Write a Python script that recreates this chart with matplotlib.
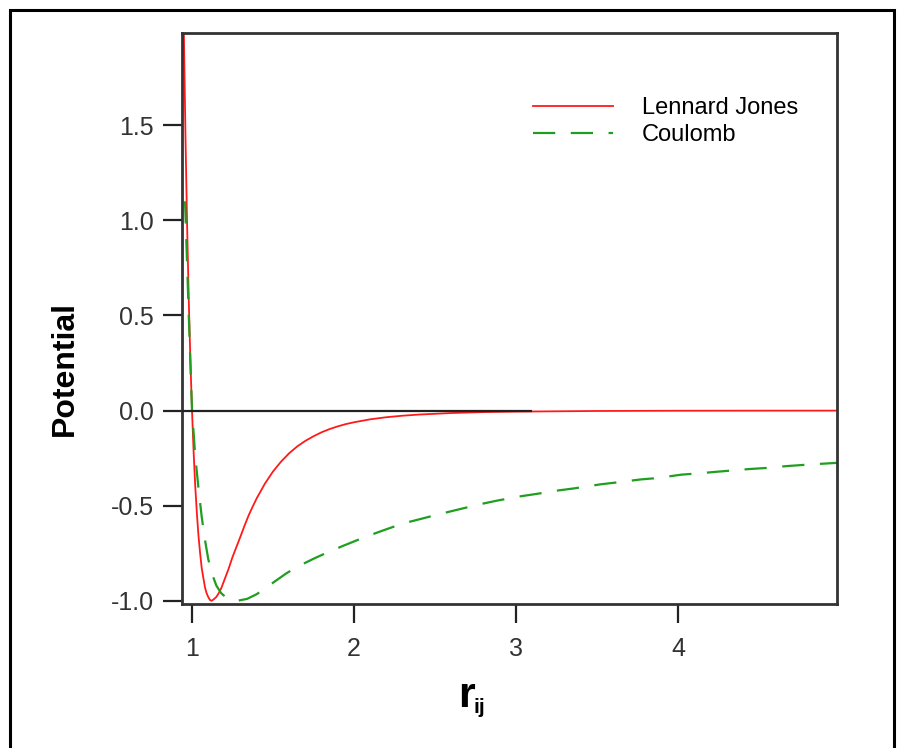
import matplotlib.pyplot as plt
from matplotlib.patches import Rectangle

# Lennard Jones curve
r_lj = [0.948, 0.96, 0.97, 0.98, 0.99, 1.00, 1.01, 1.02, 1.03, 1.04, 1.05, 1.06, 1.07,
        1.08, 1.09, 1.10, 1.11, 1.12, 1.13, 1.15, 1.165, 1.18, 1.20, 1.225, 1.25, 1.275,
        1.30, 1.325, 1.35, 1.375, 1.40, 1.45, 1.50, 1.55, 1.60, 1.65, 1.70, 1.75, 1.80,
        1.85, 1.90, 1.95, 2.00, 2.10, 2.20, 2.30, 2.40, 2.60, 2.80, 3.00, 3.50, 4.00,
        4.50, 5.00]
v_lj = [2.08, 1.42, 0.96, 0.58, 0.26, 0.00, -0.22, -0.40, -0.54, -0.66, -0.75, -0.83, -0.88,
        -0.93, -0.96, -0.98, -0.995, -1.00, -0.995, -0.98, -0.96, -0.935, -0.89, -0.834,
        -0.77, -0.715, -0.66, -0.603, -0.55, -0.504, -0.46, -0.384, -0.32, -0.268, -0.224,
        -0.188, -0.159, -0.135, -0.114, -0.097, -0.083, -0.071, -0.0615, -0.046, -0.035,
        -0.027, -0.021, -0.013, -0.008, -0.0055, -0.0022, -0.001, -0.0005, -0.0003]

# Coulomb curve
r_coul = [0.957, 0.97, 0.98, 0.99, 1.00, 1.02, 1.04, 1.06, 1.08, 1.10, 1.12, 1.15, 1.18,
          1.22, 1.28, 1.34, 1.40, 1.45, 1.52, 1.58, 1.64, 1.70, 1.76, 1.82, 1.93, 2.07,
          2.18, 2.30, 2.42, 2.51, 2.62, 2.78, 2.88, 3.01, 3.12, 3.26, 3.36, 3.52, 3.62,
          3.77, 3.87, 4.02, 4.13, 4.22, 4.32, 4.43, 4.54, 4.67, 4.77, 4.86, 4.98]
v_coul = [1.10, 0.76, 0.50, 0.25, 0.00, -0.24, -0.41, -0.56, -0.68, -0.78, -0.85, -0.92, -0.96,
          -0.99, -1.00, -0.99, -0.965, -0.935, -0.893, -0.857, -0.826, -0.80, -0.775, -0.752,
          -0.712, -0.664, -0.630, -0.594, -0.568, -0.548, -0.525, -0.492, -0.474, -0.453,
          -0.439, -0.420, -0.409, -0.388, -0.378, -0.362, -0.355, -0.337, -0.330, -0.323,
          -0.316, -0.308, -0.302, -0.292, -0.286, -0.281, -0.275]

x_ticks = [1, 2, 3, 4]
y_ticks = [-1.0, -0.5, 0.0, 0.5, 1.0, 1.5]
y_ticklabels = ["-1.0", "-0.5", "0.0", "0.5", "1.0", "1.5"]
zero_line_end = 3.1

plt.rcParams['font.family'] = ['Liberation Sans', 'DejaVu Sans']

fig = plt.figure(figsize=(9.04, 7.48), dpi=100)
ax = fig.add_axes([0.2013, 0.1925, 0.7246, 0.7634])

ax.plot(r_lj, v_lj, color='#ff1a1a', lw=1.3, label='Lennard Jones')
ax.plot(r_coul, v_coul, color='#1f9e1f', lw=1.6, dashes=(10, 7), label='Coulomb')

xmin, xmax = 0.938, 4.981
ax.set_xlim(xmin, xmax)
ax.set_ylim(-1.017, 1.985)
ax.hlines(0, xmin, zero_line_end, color='#222222', lw=1.6, zorder=3)

ax.set_xticks(x_ticks)
ax.set_xticklabels([str(t) for t in x_ticks])
ax.set_yticks(y_ticks)
ax.set_yticklabels(y_ticklabels)
ax.tick_params(direction='out', length=14, width=1.6, labelsize=18,
               colors='#222222', labelcolor='#333333')
ax.tick_params(axis='x', pad=10)
ax.tick_params(axis='y', pad=6)
for s in ax.spines.values():
    s.set_linewidth(2)
    s.set_color('#333333')

leg = ax.legend(loc='upper left', bbox_to_anchor=(533 / 904, 1 - 97 / 748),
                bbox_transform=fig.transFigure, frameon=True, fontsize=17,
                handlelength=3.4, handletextpad=1.2, labelspacing=0.22,
                borderpad=0, borderaxespad=0)
leg.get_frame().set_facecolor('white')
leg.get_frame().set_edgecolor('none')

fig.text(65 / 904, 1 - 368 / 748, 'Potential', rotation=90, fontsize=23,
         fontweight='bold', ha='center', va='center')
fig.text(458 / 904, 1 - 707 / 748, 'r', fontsize=31, fontweight='bold',
         ha='left', va='baseline')
fig.text(474 / 904, 1 - 713 / 748, 'ij', fontsize=15, fontweight='bold',
         ha='left', va='baseline')

fig.patches.append(Rectangle((10 / 904, -0.01), (894 - 10) / 904, 0.01 + 1 - 10 / 748,
                             transform=fig.transFigure, fill=False, lw=2.2,
                             edgecolor='black'))

fig.savefig('out.png', dpi=100)
